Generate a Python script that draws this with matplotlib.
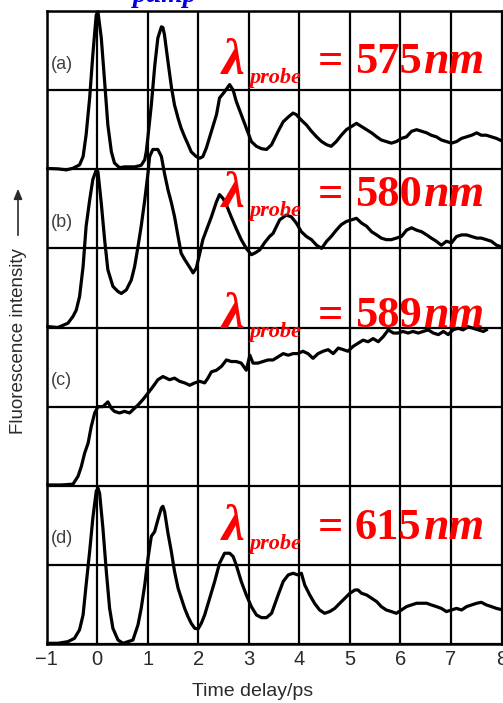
import matplotlib
matplotlib.use("Agg")
import matplotlib.pyplot as plt

# ---- traces: time (ps) and intensity in grid divisions above each panel's baseline ----
t_a = [-0.98, -0.78, -0.61, -0.48, -0.35, -0.28, -0.22, -0.15, -0.087, -0.02, 0.014, 0.08, 0.146,
       0.21, 0.28, 0.34, 0.44, 0.54, 0.74, 0.87, 0.94, 0.97, 1.00, 1.07, 1.14, 1.20, 1.27, 1.30,
       1.33, 1.40, 1.47, 1.53, 1.60, 1.66, 1.73, 1.80, 1.86, 1.96, 2.03, 2.09, 2.16, 2.26, 2.36,
       2.42, 2.52, 2.62, 2.69, 2.75, 2.85, 2.95, 3.05, 3.15, 3.25, 3.35, 3.45, 3.58, 3.68, 3.78,
       3.875, 3.94, 4.04, 4.14, 4.24, 4.34, 4.44, 4.54, 4.63, 4.73, 4.83, 4.93, 5.03, 5.13, 5.23,
       5.33, 5.43, 5.53, 5.62, 5.72, 5.82, 5.92, 6.02, 6.12, 6.22, 6.32, 6.42, 6.52, 6.61, 6.71,
       6.81, 6.91, 7.01, 7.11, 7.21, 7.31, 7.41, 7.51, 7.60, 7.70, 7.80, 7.90, 8.0]
v_a = [0.01, 0.005, -0.008, 0.013, 0.055, 0.16, 0.435, 0.90, 1.45, 1.95, 1.99, 1.66, 1.11,
       0.56, 0.22, 0.08, 0.02, 0.03, 0.03, 0.05, 0.12, 0.22, 0.39, 0.81, 1.32, 1.66, 1.80, 1.79,
       1.70, 1.36, 1.03, 0.81, 0.645, 0.52, 0.41, 0.31, 0.22, 0.16, 0.14, 0.16, 0.27, 0.48, 0.69,
       0.90, 0.98, 1.07, 1.00, 0.86, 0.69, 0.52, 0.35, 0.29, 0.26, 0.25, 0.31, 0.48, 0.60, 0.66,
       0.71, 0.69, 0.62, 0.56, 0.48, 0.41, 0.35, 0.31, 0.29, 0.35, 0.43, 0.50, 0.54, 0.58, 0.54,
       0.50, 0.46, 0.41, 0.37, 0.35, 0.33, 0.35, 0.39, 0.41, 0.48, 0.50, 0.48, 0.46, 0.43, 0.41,
       0.37, 0.35, 0.33, 0.35, 0.39, 0.41, 0.43, 0.46, 0.43, 0.43, 0.41, 0.39, 0.36]

t_b = [-0.976, -0.78, -0.58, -0.48, -0.415, -0.35, -0.28, -0.22, -0.15, -0.087, -0.02, 0.014,
       0.08, 0.146, 0.21, 0.31, 0.41, 0.476, 0.575, 0.674, 0.74, 0.806, 0.87, 0.94, 1.004, 1.037,
       1.10, 1.20, 1.27, 1.33, 1.40, 1.47, 1.53, 1.60, 1.66, 1.73, 1.80, 1.86, 1.896, 1.96, 2.03,
       2.09, 2.16, 2.26, 2.36, 2.42, 2.49, 2.555, 2.65, 2.75, 2.85, 2.95, 3.05, 3.116, 3.215, 3.31,
       3.41, 3.48, 3.61, 3.74, 3.84, 3.94, 4.04, 4.14, 4.24, 4.34, 4.44, 4.54, 4.63, 4.73, 4.83,
       4.93, 5.03, 5.13, 5.23, 5.33, 5.43, 5.53, 5.62, 5.72, 5.82, 5.92, 6.02, 6.12, 6.22, 6.32,
       6.42, 6.52, 6.61, 6.71, 6.81, 6.91, 7.01, 7.11, 7.21, 7.31, 7.41, 7.51, 7.60, 7.70, 7.80,
       7.90, 8.0]
v_b = [0.012, 0.0, 0.054, 0.14, 0.22, 0.39, 0.77, 1.28, 1.61, 1.87, 1.99, 1.97,
       1.57, 1.11, 0.73, 0.52, 0.455, 0.43, 0.475, 0.60, 0.77, 1.02, 1.28, 1.61, 1.95, 2.16,
       2.25, 2.25, 2.16, 1.95, 1.74, 1.57, 1.40, 1.15, 0.94, 0.86, 0.79, 0.73, 0.69, 0.75, 0.94,
       1.11, 1.23, 1.40, 1.59, 1.68, 1.63, 1.55, 1.40, 1.25, 1.11, 1.00, 0.92, 0.94, 0.98, 1.07,
       1.15, 1.19, 1.36, 1.42, 1.40, 1.32, 1.21, 1.15, 1.11, 1.04, 1.00, 1.09, 1.15, 1.23, 1.30,
       1.34, 1.36, 1.38, 1.32, 1.28, 1.21, 1.17, 1.13, 1.11, 1.11, 1.13, 1.15, 1.23, 1.26, 1.23,
       1.21, 1.17, 1.13, 1.09, 1.04, 1.09, 1.07, 1.15, 1.17, 1.17, 1.15, 1.13, 1.13, 1.11, 1.09,
       1.04, 1.02]

t_c = [-0.976, -0.71, -0.48, -0.38, -0.316, -0.25, -0.18, -0.118, -0.05, 0.014, 0.113, 0.21,
       0.278, 0.34, 0.44, 0.54, 0.64, 0.706, 0.806, 0.905, 1.004, 1.10, 1.20, 1.30, 1.367, 1.43,
       1.53, 1.63, 1.73, 1.83, 1.93, 2.027, 2.126, 2.19, 2.26, 2.36, 2.46, 2.556, 2.654, 2.75,
       2.85, 2.95, 3.02, 3.083, 3.18, 3.28, 3.38, 3.48, 3.58, 3.68, 3.78, 3.875, 3.97, 4.07,
       4.17, 4.27, 4.37, 4.47, 4.57, 4.67, 4.77, 4.87, 4.96, 5.06, 5.16, 5.26, 5.36, 5.46, 5.56,
       5.66, 5.76, 5.86, 5.95, 6.05, 6.15, 6.25, 6.35, 6.45, 6.55, 6.65, 6.75, 6.85, 6.945, 7.04,
       7.14, 7.24, 7.34, 7.44, 7.54, 7.64, 7.70]
v_c = [0.01, 0.01, 0.02, 0.12, 0.24, 0.41, 0.54, 0.75, 0.92, 1.00, 1.00, 1.06,
       0.98, 0.94, 0.92, 0.94, 0.92, 0.96, 1.02, 1.09, 1.17, 1.25, 1.34, 1.38, 1.36, 1.34,
       1.36, 1.32, 1.30, 1.27, 1.30, 1.32, 1.30, 1.36, 1.44, 1.46, 1.51, 1.59, 1.57, 1.57,
       1.55, 1.46, 1.65, 1.55, 1.55, 1.57, 1.59, 1.59, 1.63, 1.67, 1.65, 1.67, 1.67, 1.70,
       1.67, 1.61, 1.67, 1.70, 1.72, 1.67, 1.74, 1.72, 1.70, 1.76, 1.80, 1.84, 1.82, 1.86, 1.82,
       1.885, 1.97, 1.93, 1.93, 1.95, 1.93, 1.95, 1.93, 1.95, 1.97, 1.93, 1.91, 1.95, 1.91, 1.97,
       1.99, 1.97, 2.01, 1.99, 1.97, 1.95, 1.97]

t_d = [-0.976, -0.78, -0.58, -0.45, -0.35, -0.28, -0.22, -0.15, -0.087, -0.02, 0.014, 0.047,
       0.113, 0.18, 0.245, 0.31, 0.41, 0.51, 0.61, 0.706, 0.806, 0.87, 0.94, 1.004, 1.07, 1.136,
       1.20, 1.27, 1.30, 1.334, 1.40, 1.466, 1.53, 1.60, 1.664, 1.73, 1.796, 1.86, 1.93, 1.995,
       2.06, 2.126, 2.225, 2.324, 2.42, 2.52, 2.62, 2.69, 2.75, 2.85, 2.95, 3.05, 3.15, 3.25,
       3.35, 3.45, 3.58, 3.68, 3.78, 3.875, 3.97, 4.04, 4.106, 4.205, 4.30, 4.40, 4.50, 4.60,
       4.70, 4.80, 4.90, 5.00, 5.10, 5.16, 5.23, 5.33, 5.43, 5.53, 5.62, 5.72, 5.82, 5.92, 6.02,
       6.12, 6.22, 6.32, 6.42, 6.52, 6.61, 6.71, 6.81, 6.91, 7.01, 7.11, 7.21, 7.31, 7.41, 7.51,
       7.60, 7.70, 7.80, 7.90, 8.03]
v_d = [0.009, 0.009, 0.03, 0.072, 0.18, 0.367, 0.746, 1.17, 1.59, 1.93, 1.97, 1.905,
       1.46, 0.915, 0.45, 0.198, 0.051, 0.009, 0.03, 0.05, 0.24, 0.45, 0.746, 1.08, 1.36, 1.42,
       1.57, 1.72, 1.74, 1.67, 1.40, 1.17, 0.915, 0.704, 0.578, 0.45, 0.346, 0.262, 0.198, 0.19,
       0.262, 0.367, 0.578, 0.79, 1.02, 1.147, 1.147, 1.105, 1.0, 0.79, 0.62, 0.472, 0.367, 0.333,
       0.333, 0.388, 0.62, 0.79, 0.873, 0.894, 0.873, 0.894, 0.746, 0.62, 0.515, 0.43, 0.388, 0.41,
       0.45, 0.515, 0.578, 0.641, 0.683, 0.683, 0.641, 0.62, 0.578, 0.536, 0.473, 0.43, 0.41, 0.388, 0.43,
       0.473, 0.494, 0.515, 0.515, 0.515, 0.494, 0.473, 0.45, 0.41, 0.43, 0.45, 0.43, 0.473, 0.494, 0.515,
       0.527, 0.494, 0.473, 0.45, 0.43]

traces = [(t_a, v_a), (t_b, v_b), (t_c, v_c), (t_d, v_d)]
panel_labels = ["(a)", "(b)", "(c)", "(d)"]
probe_nm = ["575", "580", "589", "615"]
panel_offsets = [6, 4, 2, 0]          # baseline of each panel, in grid divisions
x_ticks = list(range(-1, 9))
x_tick_labels = ["\u22121", "0", "1", "2", "3", "4", "5", "6", "7", "8"]

W, H = 503, 703
fig = plt.figure(figsize=(W / 100, H / 100), dpi=100)
ax = fig.add_axes([46.7 / W, 59 / H, 454.8 / W, 633 / H])
ax.set_xlim(-1, 8)
ax.set_ylim(0, 8)

ax.set_xticks(x_ticks)
ax.set_xticklabels(x_tick_labels, fontsize=14.5, color="#2a2a2a", family="Liberation Sans")
ax.set_yticks(range(0, 9))
ax.set_yticklabels([])
ax.tick_params(length=0, pad=4)
ax.grid(True, color="black", linewidth=1.6)
ax.set_axisbelow(True)
for sp in ax.spines.values():
    sp.set_linewidth(1.8)

for (t, v), off in zip(traces, panel_offsets):
    ax.plot(t, [y + off for y in v], color="black", linewidth=2.3, solid_joinstyle="round",
            clip_on=False, zorder=3)

# panel tags
for lab, off in zip(panel_labels, panel_offsets):
    ax.text(-0.70, off + 1.33, lab, fontsize=13, color="#404040", family="Liberation Sans",
            ha="center", va="center", zorder=4)

# probe wavelength annotations
red = "#ff0000"
serif = "Liberation Serif"
base_y = [7.22, 5.54, 4.01, 1.33]
for nm, yb in zip(probe_nm, base_y):
    ax.text(2.47, yb - 0.02, "\u03bb", fontsize=37, color=red, family=serif, style="italic",
            weight="bold", ha="left", va="baseline", zorder=5)
    ax.text(3.02, yb - 0.13, "probe", fontsize=16, color=red, family=serif, style="italic",
            weight="bold", ha="left", va="baseline", zorder=5)
    ax.text(4.37, yb, "=", fontsize=32, color=red, family=serif, weight="bold",
            ha="left", va="baseline", zorder=5)
    ax.text(5.10, yb, nm, fontsize=32, color=red, family=serif, weight="bold",
            ha="left", va="baseline", zorder=5)
    ax.text(6.45, yb, "nm", fontsize=33, color=red, family=serif, weight="bold", style="italic",
            ha="left", va="baseline", zorder=5)

ax.text(0.71, 8.12, "pump", fontsize=20, color="#0000e6", family=serif, weight="bold",
        style="italic", ha="left", va="baseline", clip_on=False, zorder=5)

fig.text(253 / W, 1 - 692 / H, "Time delay/ps", fontsize=14, color="#2a2a2a",
         family="Liberation Sans", ha="center", va="center")
fig.text(19 / W, 1 - 341 / H, "Fluorescence intensity", fontsize=13.5, color="#2a2a2a",
         family="Liberation Sans", rotation=90, ha="center", va="center")
fig.add_artist(matplotlib.patches.FancyArrowPatch(
    (18 / W, 1 - 238 / H), (18 / W, 1 - 186 / H), transform=fig.transFigure,
    arrowstyle="-|>,head_length=6,head_width=2.5", color="#2a2a2a", linewidth=1.2))

fig.savefig("out.png", dpi=100)
